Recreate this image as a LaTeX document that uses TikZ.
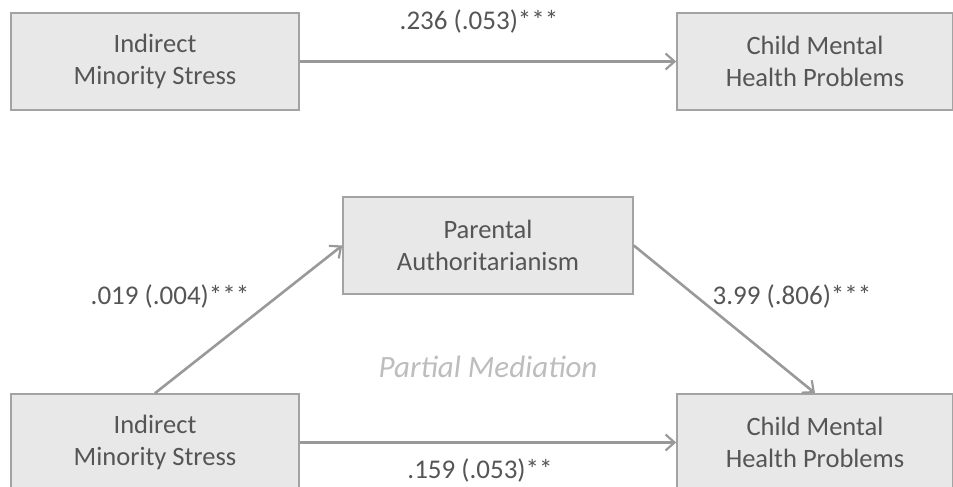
\documentclass[tikz,border=0pt]{standalone}
\usepackage{fontspec}
\setmainfont{Carlito}
\usetikzlibrary{arrows.meta}
\definecolor{boxfill}{HTML}{E8E8E8}
\definecolor{boxline}{HTML}{A3A3A3}
\definecolor{txt}{HTML}{555555}
\definecolor{arr}{HTML}{999999}
\definecolor{pm}{HTML}{BDBDBD}
\tikzset{
  var/.style={draw=boxline, fill=boxfill, line width=1.6pt, rectangle,
    minimum height=97pt, align=center, text=txt, inner sep=0pt,
    font=\fontsize{26.5}{32.5}\selectfont},
  path/.style={draw=arr, line width=2.6pt, -{Straight Barb[length=9pt,width=16pt,line width=2.2pt]}},
  coef/.style={text=txt, font=\fontsize{27}{32}\selectfont, inner sep=0pt}
}
\begin{document}
\begin{tikzpicture}[x=1pt,y=-1pt]
\useasboundingbox (0,0) rectangle (953,487);
\clip (0,0) rectangle (953,487);
\node[var, minimum width=288pt] (tl) at (155,61.5) {Indirect\\Minority Stress};
\node[var, minimum width=276pt] (tr) at (815,61.5) {Child Mental\\Health Problems};
\node[var, minimum width=290pt] (pa) at (488,245.5) {Parental\\Authoritarianism};
\node[var, minimum width=288pt] (bl) at (155,442.5) {Indirect\\Minority Stress};
\node[var, minimum width=276pt] (br) at (815,442.5) {Child Mental\\Health Problems};
\draw[path] (tl.east) -- (tr.west);
\draw[path] (bl.north) -- (pa.west);
\draw[path] (pa.east) -- (br.north);
\draw[path] (bl.east) -- (br.west);
\node[coef] (c1) at (479,21) {.236 (.053)***};
\node[coef] (c2) at (170,296) {.019 (.004)***};
\node[coef] (c3) at (792,296) {3.99 (.806)***};
\node[coef] (c4) at (480,470) {.159 (.053)**};
\node[text=pm, font=\fontsize{31}{36}\selectfont\itshape, inner sep=0pt] (pm) at (488,367) {Partial Mediation};
\end{tikzpicture}
\end{document}
